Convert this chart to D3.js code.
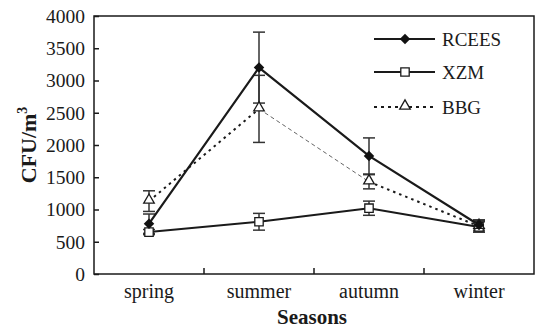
<!DOCTYPE html>
<html>
<head>
<meta charset="utf-8">
<script src="https://cdn.jsdelivr.net/npm/d3@7"></script>
<style>
  body { margin: 0; background: #fff; }
</style>
</head>
<body>
<script>
const w = 535;
const h = 330;

const seasons = ["spring", "summer", "autumn", "winter"];
const yTicks = [0, 500, 1000, 1500, 2000, 2500, 3000, 3500, 4000];

const rcees = [780, 3200, 1830, 760];
const rceesErr = [150, 550, 280, 80];
const xzm = [650, 810, 1020, 730];
const xzmErr = [40, 130, 110, 80];
const bbg = [1130, 2560, 1430, 740];
const bbgErr = [160, 520, 110, 90];

const serif = "Liberation Serif";
const ink = "#1a1a1a";
const margin = {left: 94, right: 1, top: 16, bottom: 56};

const svg = d3.select("body")
    .append("svg")
    .attr("width", w)
    .attr("height", h)
    .attr("font-family", serif)
    ;

const xScale = d3.scaleBand()
    .domain(seasons)
    .range([margin.left, w - margin.right])
    ;

const yScale = d3.scaleLinear()
    .domain([0, 4000])
    .range([h - margin.bottom, margin.top])
    ;

const cx = (s) => xScale(s) + xScale.bandwidth() / 2;

// frame
svg.append("rect")
    .attr("x", margin.left)
    .attr("y", margin.top)
    .attr("width", w - margin.right - margin.left)
    .attr("height", h - margin.bottom - margin.top)
    .attr("fill", "none")
    .attr("stroke", ink)
    .attr("stroke-width", 1.5)
    ;

// y axis, ticks inside
const yAxis = d3.axisRight(yScale).tickValues(yTicks).tickSize(5).tickFormat("");
svg.append("g")
    .attr("transform", "translate(" + margin.left + ", 0)")
    .call(yAxis)
    .call(g => g.select(".domain").remove())
    .call(g => g.selectAll("line").attr("stroke", ink).attr("stroke-width", 1.5))
    ;
svg.append("g")
    .selectAll("text")
    .data(yTicks)
    .join("text")
    .attr("x", margin.left - 9)
    .attr("y", d => yScale(d))
    .attr("dy", "0.35em")
    .attr("text-anchor", "end")
    .attr("font-family", serif)
    .attr("font-size", 19.5)
    .attr("fill", ink)
    .text(d => d)
    ;

// x axis: ticks at band edges, pointing up
const xEdges = seasons.slice(1).map(s => xScale(s));
svg.append("g")
    .selectAll("line")
    .data(xEdges)
    .join("line")
    .attr("x1", d => d)
    .attr("x2", d => d)
    .attr("y1", h - margin.bottom)
    .attr("y2", h - margin.bottom - 6)
    .attr("stroke", ink)
    .attr("stroke-width", 1.5)
    ;
svg.append("g")
    .selectAll("text")
    .data(seasons)
    .join("text")
    .attr("x", d => cx(d))
    .attr("y", 298)
    .attr("text-anchor", "middle")
    .attr("font-family", serif)
    .attr("font-size", 20)
    .attr("fill", ink)
    .text(d => d)
    ;

svg.append("text")
    .attr("x", 312)
    .attr("y", 324)
    .attr("text-anchor", "middle")
    .attr("font-family", serif)
    .attr("font-size", 21)
    .attr("font-weight", "bold")
    .attr("fill", ink)
    .text("Seasons")
    ;

const yTitle = svg.append("text")
    .attr("transform", "translate(36, 145) rotate(-90)")
    .attr("text-anchor", "middle")
    .attr("font-family", serif)
    .attr("font-size", 22)
    .attr("font-weight", "bold")
    .attr("fill", ink)
    ;
yTitle.append("tspan").text("CFU/m");
yTitle.append("tspan").attr("dy", -9).attr("font-size", 14).text("3");

// error bars
function errorBars(vals, errs) {
    const g = svg.append("g").attr("stroke", "#333").attr("stroke-width", 1.5);
    seasons.forEach((s, i) => {
        const x = cx(s);
        const y1 = yScale(vals[i] + errs[i]);
        const y2 = yScale(vals[i] - errs[i]);
        g.append("line").attr("x1", x).attr("x2", x).attr("y1", y1).attr("y2", y2);
        g.append("line").attr("x1", x - 6).attr("x2", x + 6).attr("y1", y1).attr("y2", y1);
        g.append("line").attr("x1", x - 6).attr("x2", x + 6).attr("y1", y2).attr("y2", y2);
    });
}
errorBars(rcees, rceesErr);
errorBars(xzm, xzmErr);
errorBars(bbg, bbgErr);

const line = d3.line()
    .x((d, i) => cx(seasons[i]))
    .y(d => yScale(d))
    ;

// BBG dotted line, thin segment between summer and autumn
for (let i = 0; i < 3; i++) {
    const thin = i === 1;
    svg.append("line")
        .attr("x1", cx(seasons[i]))
        .attr("y1", yScale(bbg[i]))
        .attr("x2", cx(seasons[i + 1]))
        .attr("y2", yScale(bbg[i + 1]))
        .attr("stroke", thin ? "#666" : ink)
        .attr("stroke-width", thin ? 1 : 2)
        .attr("stroke-dasharray", thin ? "4,3" : "2.5,4")
        ;
}

svg.append("path")
    .datum(xzm)
    .attr("d", line)
    .attr("fill", "none")
    .attr("stroke", ink)
    .attr("stroke-width", 2)
    ;

svg.append("path")
    .datum(rcees)
    .attr("d", line)
    .attr("fill", "none")
    .attr("stroke", ink)
    .attr("stroke-width", 2.2)
    ;

const diamond = d3.symbol().type(d3.symbolDiamond2).size(70);
const square = d3.symbol().type(d3.symbolSquare2).size(90);
const triangle = d3.symbol().type(d3.symbolTriangle2).size(80);

svg.append("g")
    .selectAll("path")
    .data(xzm)
    .join("path")
    .attr("transform", (d, i) => "translate(" + cx(seasons[i]) + "," + yScale(d) + ")")
    .attr("d", square)
    .attr("fill", "#fff")
    .attr("stroke", ink)
    .attr("stroke-width", 1.3)
    ;

svg.append("g")
    .selectAll("path")
    .data(bbg)
    .join("path")
    .attr("transform", (d, i) => "translate(" + cx(seasons[i]) + "," + (yScale(d) - 1) + ")")
    .attr("d", triangle)
    .attr("fill", "#fff")
    .attr("stroke", ink)
    .attr("stroke-width", 1.3)
    ;

svg.append("g")
    .selectAll("path")
    .data(rcees)
    .join("path")
    .attr("transform", (d, i) => "translate(" + cx(seasons[i]) + "," + yScale(d) + ")")
    .attr("d", diamond)
    .attr("fill", "#111")
    ;

// legend
const legendNames = ["RCEES", "XZM", "BBG"];
const legendY = [39, 72, 107];
const lg = svg.append("g");
legendNames.forEach((name, i) => {
    const y = legendY[i];
    lg.append("line")
        .attr("x1", 374).attr("x2", 435)
        .attr("y1", y).attr("y2", y)
        .attr("stroke", ink)
        .attr("stroke-width", i === 2 ? 1.8 : 2)
        .attr("stroke-dasharray", i === 2 ? "3,4" : null)
        ;
    lg.append("path")
        .attr("transform", "translate(405," + (i === 2 ? y - 1 : y) + ")")
        .attr("d", i === 0 ? diamond : i === 1 ? square : triangle)
        .attr("fill", i === 0 ? "#111" : "#fff")
        .attr("stroke", ink)
        .attr("stroke-width", i === 0 ? 0 : 1.3)
        ;
    lg.append("text")
        .attr("x", 442)
        .attr("y", y)
        .attr("dy", "0.35em")
        .attr("font-family", serif)
        .attr("font-size", 19)
        .attr("fill", ink)
        .text(name)
        ;
});
</script>
</body>
</html>
